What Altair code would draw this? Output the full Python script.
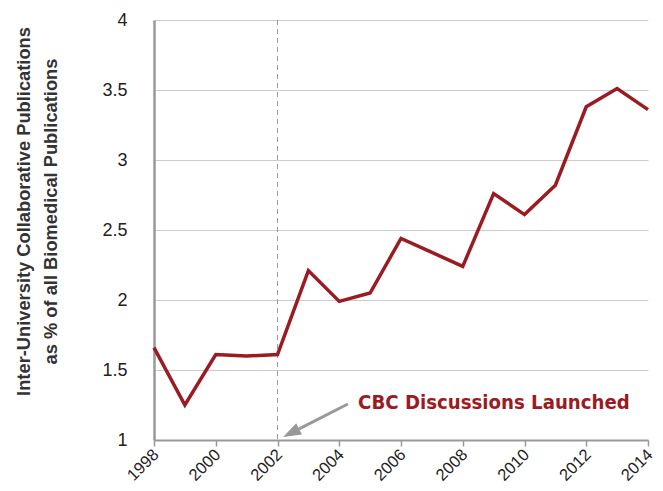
import altair as alt
import pandas as pd

years = list(range(1998, 2015))
values = [1.66, 1.25, 1.61, 1.60, 1.61, 2.21, 1.99, 2.05, 2.44, 2.34, 2.24, 2.76, 2.61, 2.82, 3.38, 3.51, 3.36]
x_ticks = [1998, 2000, 2002, 2004, 2006, 2008, 2010, 2012, 2014]
y_ticks = [1, 1.5, 2, 2.5, 3, 3.5, 4]
event_year = [2002]
annotation_text = ["CBC Discussions Launched"]
annotation_pos = [2004.61, 1.22]
arrow_tail = [2004.28, 1.257]
arrow_shaft_end = [2002.70, 1.079]
arrow_head = [2002.44, 1.05]

RED = "#9a1b22"
GRAY = "#999999"
FONT = "Liberation Sans"

df = pd.DataFrame({"year": years, "value": values})

xscale = alt.Scale(domain=[1998, 2014], nice=False, zero=False)
yscale = alt.Scale(domain=[1, 4], nice=False, zero=False)

line = alt.Chart(df).mark_line(color=RED, strokeWidth=3.5).encode(
    x=alt.X("year:Q", scale=xscale,
            axis=alt.Axis(values=x_ticks, format="d", title=None, grid=False,
                          labelAngle=-45, labelFontSize=16.5, labelFont=FONT,
                          labelColor="#222", domainColor=GRAY, domainWidth=2,
                          tickColor=GRAY, tickWidth=1.5, tickSize=6, labelPadding=0,
                          labelOffset=-4)),
    y=alt.Y("value:Q", scale=yscale,
            axis=alt.Axis(values=y_ticks, format="~g",
                          title=["Inter-University Collaborative Publications",
                                 "as % of all Biomedical Publications"],
                          titleFontSize=18.3, titleFont=FONT, titleFontWeight="bold",
                          titleColor="#333", titleAngle=-90, titleAlign="center",
                          titleBaseline="alphabetic", titleX=-125, titleY=191,
                          titleLineHeight=27,
                          labelFontSize=18, labelFont=FONT, labelColor="#222",
                          ticks=False, labelPadding=27, grid=True, gridColor="#cccccc",
                          gridWidth=1, domainColor=GRAY, domainWidth=2.5)),
)

vdf = pd.DataFrame({"year": event_year})
vrule = alt.Chart(vdf).mark_rule(color=GRAY, strokeDash=[5, 4], strokeWidth=1).encode(
    x=alt.X("year:Q", scale=xscale),
    y=alt.value(0),
    y2=alt.value(420),
)

tdf = pd.DataFrame({"x": [annotation_pos[0]], "y": [annotation_pos[1]], "t": annotation_text})
text = alt.Chart(tdf).mark_text(align="left", baseline="alphabetic", fontSize=20.2,
                                font="DejaVu Sans Condensed", fontWeight="bold",
                                color=RED).encode(
    x=alt.X("x:Q", scale=xscale), y=alt.Y("y:Q", scale=yscale), text="t:N")

adf = pd.DataFrame({"x": [arrow_tail[0]], "y": [arrow_tail[1]],
                    "x2": [arrow_shaft_end[0]], "y2": [arrow_shaft_end[1]]})
shaft = alt.Chart(adf).mark_rule(color=GRAY, strokeWidth=3).encode(
    x=alt.X("x:Q", scale=xscale), y=alt.Y("y:Q", scale=yscale), x2="x2:Q", y2="y2:Q")

hdf = pd.DataFrame({"x": [arrow_head[0]], "y": [arrow_head[1]]})
head = alt.Chart(hdf).mark_point(shape="M0,-1L0.7,1L-0.7,1Z", filled=True, color=GRAY,
                                 opacity=1, size=324, angle=243).encode(
    x=alt.X("x:Q", scale=xscale), y=alt.Y("y:Q", scale=yscale))

chart = alt.layer(vrule, line, shaft, head, text).properties(
    width=494, height=420,
    padding={"left": 146, "top": 12, "right": 7, "bottom": 43},
    autosize="none",
).configure_view(stroke=None)

chart.save("out.html", embed_options={"renderer": "svg", "actions": False})
